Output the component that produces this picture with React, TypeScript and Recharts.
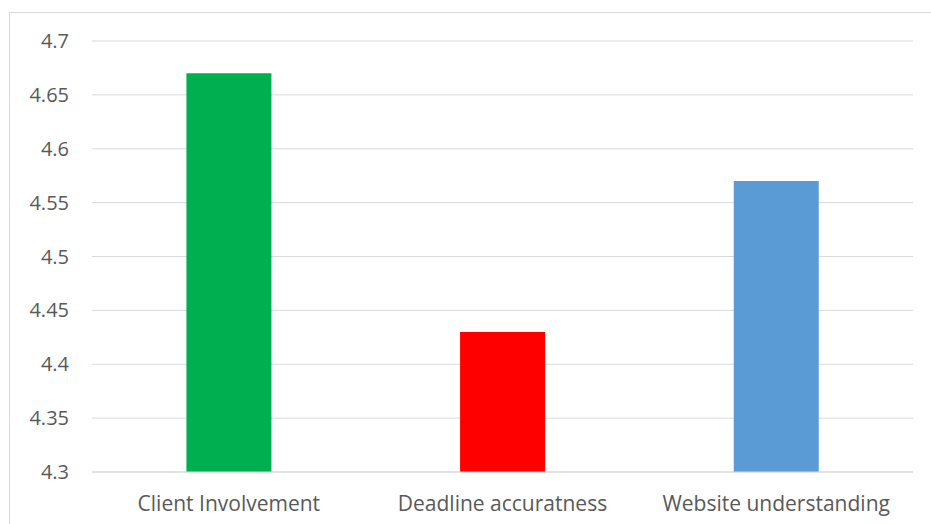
import React from "react";
import { BarChart, Bar, XAxis, YAxis, CartesianGrid, Cell } from "recharts";

const categories = ["Client Involvement", "Deadline accuratness", "Website understanding"];
const values = [4.67, 4.43, 4.57];
const barColors = ["#00b050", "#ff0000", "#5b9bd5"];
const yTicks = [4.3, 4.35, 4.4, 4.45, 4.5, 4.55, 4.6, 4.65, 4.7];
const yTickLabels = ["4.3", "4.35", "4.4", "4.45", "4.5", "4.55", "4.6", "4.65", "4.7"];

const data = categories.map((name, i) => ({ name, value: values[i] }));

const FONT = "'Open Sans', sans-serif";

export default function App() {
  return (
    <div style={{ position: "absolute", left: 0, top: 0, width: 931, height: 524, background: "#fff", overflow: "hidden" }}>
      <div
        style={{
          position: "absolute",
          left: 9,
          top: 12,
          width: 940,
          height: 530,
          border: "1px solid #d9d9d9",
          boxSizing: "border-box",
        }}
      />
      <div style={{ position: "absolute", left: 0, top: 0 }}>
        <BarChart
          width={931}
          height={524}
          data={data}
          margin={{ top: 41, right: 18, bottom: 22, left: 32 }}
          barCategoryGap="34.5%"
        >
          <CartesianGrid vertical={false} stroke="#d9d9d9" strokeWidth={1} />
          <XAxis
            dataKey="name"
            axisLine={{ stroke: "#d9d9d9" }}
            tickLine={false}
            tickMargin={18}
            height={30}
            tick={{ fill: "#595959", fontSize: 21, fontFamily: FONT }}
            interval={0}
          />
          <YAxis
            width={60}
            domain={[4.3, 4.7]}
            ticks={yTicks}
            tickFormatter={(v: number) => yTickLabels[yTicks.findIndex((t) => Math.abs(t - v) < 1e-9)] ?? String(v)}
            axisLine={false}
            tickLine={false}
            tickMargin={17}
            allowDataOverflow
            tick={{ fill: "#595959", fontSize: 20, fontFamily: FONT }}
          />
          <Bar dataKey="value" isAnimationActive={false}>
            {data.map((d, i) => (
              <Cell key={d.name} fill={barColors[i]} />
            ))}
          </Bar>
        </BarChart>
      </div>
    </div>
  );
}
